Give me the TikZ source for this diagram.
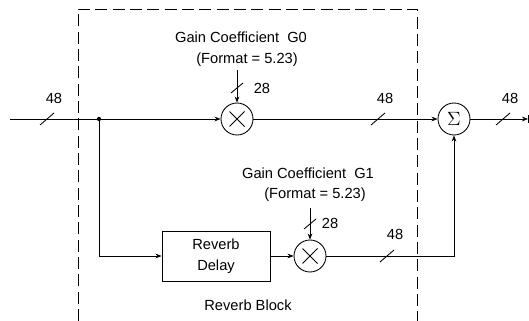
\documentclass[tikz,border=0pt]{standalone}
\usepackage{fontspec}
\setmainfont{Liberation Sans}
\usetikzlibrary{arrows.meta}
\begin{document}
\begin{tikzpicture}[x=0.75pt,y=-0.75pt,
  line width=0.65pt,
  every node/.style={font=\fontsize{11}{13}\selectfont},
  sig/.style={-{Stealth[length=4.5pt,width=3.5pt]}},
  mult/.style={draw,circle,minimum size=24pt,inner sep=0pt},
  blockbox/.style={draw,rectangle,minimum width=81pt,minimum height=37.5pt,align=center,inner sep=0pt},
  lbl/.style={inner sep=0pt,align=center},
  border/.style={dash pattern=on 9pt off 4pt,line width=0.7pt}]
\useasboundingbox (0,0) rectangle (529,321);
% dashed reverb block outline
\draw[border] (78,321) -- (78,9) -- (417,9) -- (417,321);
% nodes
\coordinate (in) at (10,119);
\coordinate (split) at (99,119);
\node[mult] (g0) at (237,119) {};
\node[mult] (sum) at (454,119) {\fontsize{14}{14}\selectfont$\Sigma$};
\coordinate (out) at (528,119);
\node[blockbox] (rd) at (216,256) {Reverb\\[3pt]Delay};
\node[mult] (g1) at (310,256) {};
\coordinate (g0top) at (237,70);
\coordinate (g1top) at (310,208);
% crosses
\foreach \m in {g0,g1}{
  \draw ([shift={(-7.5,-7.5)}]\m.center) -- ([shift={(7.5,7.5)}]\m.center);
  \draw ([shift={(-7.5,7.5)}]\m.center) -- ([shift={(7.5,-7.5)}]\m.center);
}
% connectors
\draw (in) -- (split);
\fill (split) circle (1.6pt);
\draw[sig] (split) -- (g0);
\draw[sig] (g0) -- (sum);
\draw[sig] (split) |- (rd);
\draw[sig] (rd) -- (g1);
\draw[sig] (g1) -| (sum);
\draw[sig] (sum) -- (out);
\draw (out) ++(0,-4) -- ++(0,8);
\draw[sig] (g0top) -- (g0);
\draw[sig] (g1top) -- (g1);
% bus width slashes
\foreach \p in {(47,119),(378,119),(503,119),(387,256)}{
  \draw \p ++(-7,6) -- ++(14,-12);
}
\foreach \p in {(237,88),(310,224)}{
  \draw \p ++(-6,5) -- ++(12,-10);
}
% labels
\node[lbl] (l48a) at (54,98) {48};
\node[lbl] (l48b) at (385,98) {48};
\node[lbl] (l48c) at (510,98) {48};
\node[lbl] (l48d) at (395,234) {48};
\node[lbl] (l28a) at (262,88) {28};
\node[lbl] (l28b) at (330,223) {28};
\node[lbl] (g0t1) at (241,37) {Gain Coefficient\ \ G0};
\node[lbl] (g0t2) at (247,60) {(Format = 5.23)};
\node[lbl] (g1t1) at (308,173) {Gain Coefficient\ \ G1};
\node[lbl] (g1t2) at (315,195) {(Format = 5.23)};
\node[lbl] (rb) at (248,305) {Reverb Block};
\end{tikzpicture}
\end{document}
